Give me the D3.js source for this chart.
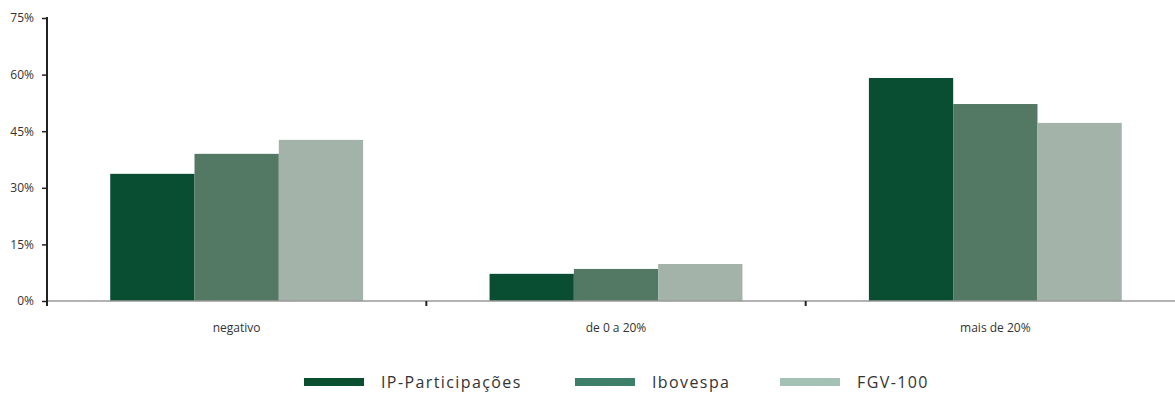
<!DOCTYPE html>
<html>
<head>
<meta charset="utf-8">
<script src="https://cdn.jsdelivr.net/npm/d3@7"></script>
<style>
  body { margin: 0; background: #fff; }
  svg { font-family: "Open Sans", "Noto Sans", sans-serif; }
</style>
</head>
<body>
<div id="chart"></div>
<script>
let categories = ["negativo", "de 0 a 20%", "mais de 20%"];
let seriesNames = ["IP-Participações", "Ibovespa", "FGV-100"];
let ipValues = [33.7, 7.2, 59.1];
let iboValues = [39.0, 8.5, 52.2];
let fgvValues = [42.7, 9.8, 47.2];
let yTicks = [0, 15, 30, 45, 60, 75];

let barColors = ["#094e33", "#537864", "#a3b3a9"];
let legendColors = ["#0a4f30", "#3e7f6a", "#a3c2b5"];

let width = 1175, height = 394;
let series = [ipValues, iboValues, fgvValues];

let svg = d3.select("#chart").append("svg")
    .attr("width", width)
    .attr("height", height);

let x = d3.scaleBand()
    .domain(categories)
    .range([47, 1185])
    .padding(0);

// three bars in the middle two thirds of each band
let inner = d3.scaleBand()
    .domain(seriesNames)
    .range([0, x.bandwidth()])
    .paddingOuter(0.75)
    .paddingInner(0);

let y = d3.scaleLinear()
    .domain([0, 75])
    .range([301, 18]);

// bars
let groups = svg.append("g")
    .selectAll("g")
    .data(categories)
    .enter().append("g")
    .attr("transform", function (d) { return "translate(" + x(d) + ",0)"; });

groups.selectAll("rect")
    .data(function (d, i) {
        return seriesNames.map(function (s, j) { return {name: s, value: series[j][i], j: j}; });
    })
    .enter().append("rect")
    .attr("x", function (d) { return inner(d.name); })
    .attr("width", inner.bandwidth())
    .attr("y", function (d) { return y(d.value); })
    .attr("height", function (d) { return y(0) - y(d.value); })
    .attr("fill", function (d) { return barColors[d.j]; });

// x axis baseline
svg.append("line")
    .attr("x1", 47).attr("x2", width)
    .attr("y1", y(0)).attr("y2", y(0))
    .attr("stroke", "#999").attr("stroke-width", 1.5);

// category separators
svg.append("g")
    .selectAll("line")
    .data(categories.slice(1))
    .enter().append("line")
    .attr("x1", function (d) { return x(d); })
    .attr("x2", function (d) { return x(d); })
    .attr("y1", y(0)).attr("y2", y(0) + 5)
    .attr("stroke", "#222").attr("stroke-width", 2);

// category labels
svg.append("g")
    .selectAll("text")
    .data(categories)
    .enter().append("text")
    .attr("x", function (d) { return x(d) + x.bandwidth() / 2; })
    .attr("y", 332)
    .attr("text-anchor", "middle")
    .attr("font-size", 12)
    .attr("fill", "#333")
    .text(function (d) { return d; });

// y axis
let yAxis = d3.axisLeft(y)
    .tickValues(yTicks)
    .tickSize(5)
    .tickPadding(8)
    .tickFormat(function (d) { return d + "%"; });

let yg = svg.append("g")
    .attr("transform", "translate(47,0)")
    .call(yAxis);

yg.select(".domain").remove();
yg.append("line")
    .attr("x1", 0).attr("x2", 0)
    .attr("y1", y(75) - 1).attr("y2", y(0) + 5)
    .attr("stroke", "#222").attr("stroke-width", 2);
yg.selectAll(".tick line").attr("stroke", "#222").attr("stroke-width", 1.5);
yg.selectAll(".tick text")
    .attr("font-size", 12)
    .attr("font-family", "\"Open Sans\", \"Noto Sans\", sans-serif")
    .attr("fill", "#333");

// legend
let legendX = [304, 575, 780];
let legend = svg.append("g")
    .selectAll("g")
    .data(seriesNames)
    .enter().append("g")
    .attr("transform", function (d, i) { return "translate(" + legendX[i] + ",382)"; });

legend.append("rect")
    .attr("x", 0).attr("y", -4)
    .attr("width", 60).attr("height", 8)
    .attr("fill", function (d, i) { return legendColors[i]; });

legend.append("text")
    .attr("x", 77).attr("y", 6)
    .attr("font-size", 16)
    .attr("letter-spacing", 1.4)
    .attr("fill", "#333")
    .text(function (d) { return d; });
</script>
</body>
</html>
